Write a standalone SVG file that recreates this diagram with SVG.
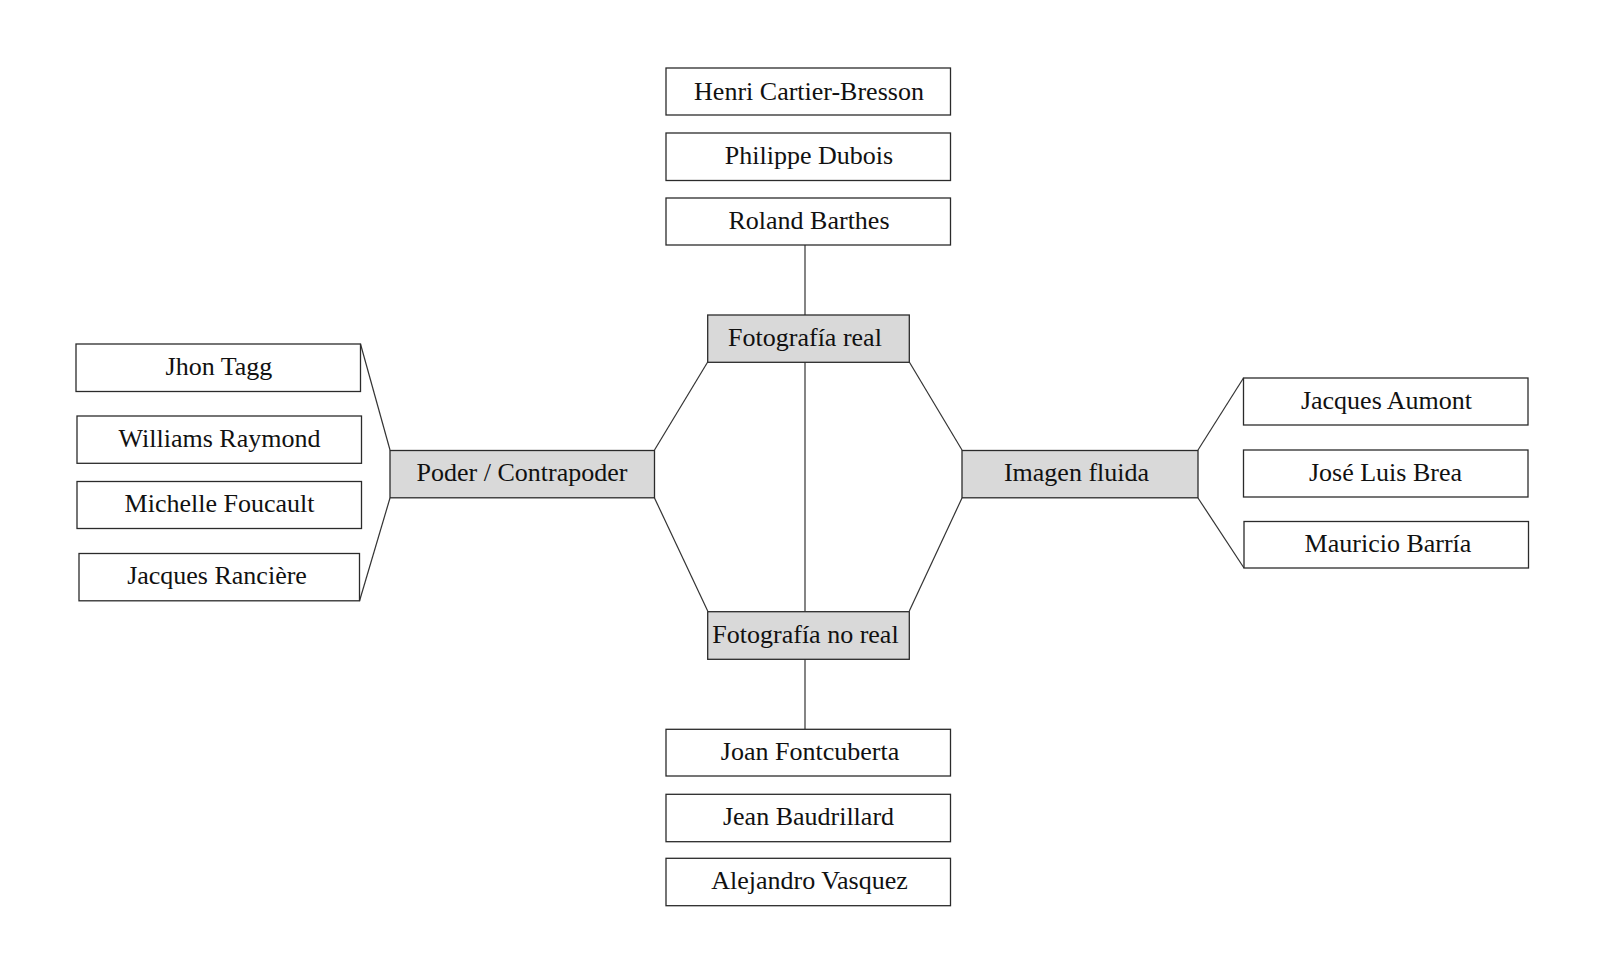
<svg xmlns="http://www.w3.org/2000/svg" width="1610" height="966" viewBox="0 0 1610 966">
<style>
.box{fill:#ffffff;stroke:#2b2b2b;stroke-width:1.3}
.hub{fill:#d9d9d9;stroke:#2b2b2b;stroke-width:1.3}
.lbl{font-family:"Liberation Serif","Times New Roman",serif;font-size:26px;fill:#111;text-anchor:middle}
#connectors line{stroke:#333;stroke-width:1.2;fill:none}
</style>
<rect width="1610" height="966" fill="#ffffff"/>
<g id="connectors">
<line x1="805" y1="245" x2="805" y2="315"/>
<line x1="805" y1="362" x2="805" y2="611"/>
<line x1="805" y1="659" x2="805" y2="729"/>
<line x1="707.7" y1="362" x2="654.5" y2="450"/>
<line x1="909.3" y1="362" x2="962" y2="450"/>
<line x1="654.5" y1="498" x2="707.7" y2="611"/>
<line x1="962" y1="498" x2="909.3" y2="611"/>
<line x1="360.5" y1="344" x2="390" y2="450"/>
<line x1="359.5" y1="601" x2="390" y2="498"/>
<line x1="1198" y1="450" x2="1243.5" y2="378"/>
<line x1="1198" y1="498" x2="1244" y2="568"/>
</g>
<g id="henri"><rect class="box" x="666" y="68" width="284.5" height="47"/><text class="lbl" x="809" y="100">Henri Cartier-Bresson</text></g>
<g id="philippe"><rect class="box" x="666" y="133" width="284.5" height="47.5"/><text class="lbl" x="809" y="164">Philippe Dubois</text></g>
<g id="roland"><rect class="box" x="666" y="198" width="284.5" height="47"/><text class="lbl" x="809" y="228.5">Roland Barthes</text></g>
<g id="foto-real"><rect class="hub" x="707.7" y="315" width="201.6" height="47.3"/><text class="lbl" x="805" y="346">Fotografía real</text></g>
<g id="poder"><rect class="hub" x="390" y="450.5" width="264.5" height="47.3"/><text class="lbl" x="522" y="481">Poder / Contrapoder</text></g>
<g id="imagen"><rect class="hub" x="962" y="450.5" width="236" height="47.3"/><text class="lbl" x="1076.5" y="481">Imagen fluida</text></g>
<g id="foto-no-real"><rect class="hub" x="707.7" y="611.7" width="201.6" height="47.6"/><text class="lbl" x="805.5" y="642.5">Fotografía no real</text></g>
<g id="jhon"><rect class="box" x="76" y="344" width="284.5" height="47.5"/><text class="lbl" x="219" y="375">Jhon Tagg</text></g>
<g id="williams"><rect class="box" x="77" y="416" width="284.5" height="47.3"/><text class="lbl" x="219.5" y="447">Williams Raymond</text></g>
<g id="michelle"><rect class="box" x="77" y="481.5" width="284.5" height="47"/><text class="lbl" x="219.5" y="512">Michelle Foucault</text></g>
<g id="ranciere"><rect class="box" x="79" y="553.5" width="280.5" height="47.3"/><text class="lbl" x="217" y="584">Jacques Rancière</text></g>
<g id="aumont"><rect class="box" x="1243.5" y="378" width="284.5" height="47"/><text class="lbl" x="1386.5" y="409">Jacques Aumont</text></g>
<g id="brea"><rect class="box" x="1243.5" y="450" width="284.5" height="47"/><text class="lbl" x="1385.5" y="480.5">José Luis Brea</text></g>
<g id="barria"><rect class="box" x="1244" y="521.5" width="284.5" height="46.5"/><text class="lbl" x="1388" y="552">Mauricio Barría</text></g>
<g id="fontcuberta"><rect class="box" x="666" y="729.3" width="284.5" height="46.7"/><text class="lbl" x="810" y="760">Joan Fontcuberta</text></g>
<g id="baudrillard"><rect class="box" x="666" y="794.3" width="284.5" height="47.4"/><text class="lbl" x="808.5" y="825">Jean Baudrillard</text></g>
<g id="vasquez"><rect class="box" x="666" y="858.3" width="284.5" height="47.4"/><text class="lbl" x="809.5" y="889">Alejandro Vasquez</text></g>
</svg>
